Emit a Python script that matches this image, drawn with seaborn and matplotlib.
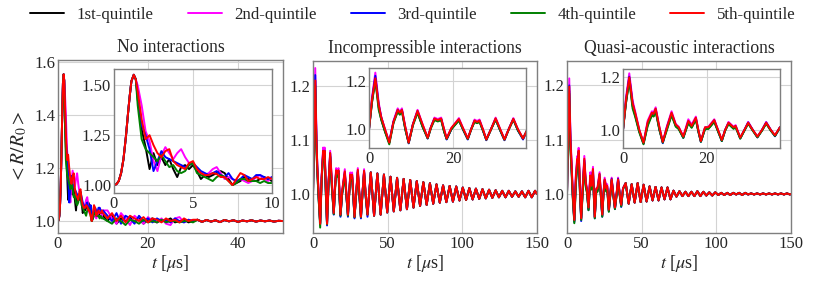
import numpy as np
import pandas as pd
import matplotlib
matplotlib.use("Agg")
import matplotlib.pyplot as plt
import seaborn as sns

# ---------------- data ----------------
labels = ["1st-quintile", "2nd-quintile", "3rd-quintile", "4th-quintile", "5th-quintile"]
colors = ["black", "magenta", "blue", "green", "red"]
titles = ["No interactions", "Incompressible interactions", "Quasi-acoustic interactions"]

# --- No interactions ---
t_ni_rise = [0.0, 0.15, 0.3, 0.45, 0.6, 0.75, 0.9, 1.0, 1.1, 1.25, 1.38]
r_ni_rise = [1.0, 1.004, 1.02, 1.06, 1.13, 1.24, 1.37, 1.45, 1.52, 1.553, 1.53]
t_ni_mid = [1.5, 1.75, 2.0, 2.25, 2.5, 2.75, 3.0, 3.25, 3.5, 3.75, 4.0, 4.25, 4.5, 4.75,
            5.0, 5.25, 5.5, 5.75, 6.0, 6.25, 6.5, 6.75, 7.0, 7.25, 7.5, 7.75, 8.0, 8.25,
            8.5, 8.75, 9.0, 9.25, 9.5, 9.75, 10.0]
r_ni_mid_q1 = [1.43, 1.28, 1.19, 1.08, 1.16, 1.10, 1.14, 1.10, 1.13, 1.08, 1.04, 1.09, 1.10, 1.08,
               1.10, 1.07, 1.03, 1.05, 1.04, 1.05, 1.06, 1.07, 1.06, 1.03, 1.00, 1.01, 1.02, 1.04,
               1.03, 1.02, 1.02, 1.03, 1.04, 1.03, 1.02]
r_ni_mid_q2 = [1.50, 1.40, 1.27, 1.22, 1.12, 1.07, 1.15, 1.19, 1.16, 1.13, 1.16, 1.18, 1.14, 1.11,
               1.11, 1.08, 1.06, 1.05, 1.06, 1.08, 1.09, 1.06, 1.03, 1.04, 1.03, 1.02, 1.03, 1.02,
               1.01, 1.02, 1.04, 1.05, 1.03, 1.02, 1.04]
r_ni_mid_q3 = [1.45, 1.30, 1.25, 1.18, 1.07, 1.12, 1.17, 1.14, 1.13, 1.12, 1.11, 1.10, 1.09, 1.10,
               1.11, 1.09, 1.07, 1.06, 1.05, 1.06, 1.07, 1.05, 1.04, 1.06, 1.03, 1.02, 1.03, 1.05,
               1.04, 1.03, 1.05, 1.05, 1.04, 1.03, 1.04]
r_ni_mid_q4 = [1.40, 1.23, 1.18, 1.16, 1.14, 1.12, 1.15, 1.12, 1.09, 1.10, 1.07, 1.06, 1.07, 1.10,
               1.11, 1.06, 1.05, 1.04, 1.03, 1.02, 1.04, 1.05, 1.04, 1.02, 1.00, 1.01, 1.03, 1.03,
               1.02, 1.02, 1.02, 1.01, 1.02, 1.01, 1.01]
r_ni_mid_q5 = [1.47, 1.33, 1.23, 1.25, 1.20, 1.16, 1.14, 1.17, 1.18, 1.12, 1.10, 1.09, 1.08, 1.11,
               1.12, 1.08, 1.06, 1.05, 1.05, 1.06, 1.055, 1.04, 1.04, 1.02, 1.00, 1.03, 1.06, 1.05,
               1.02, 1.03, 1.04, 1.03, 1.03, 1.04, 1.03]
t_ni_late = [11, 12, 13, 14, 15, 16, 17, 18, 19, 20, 21, 22, 23, 24, 25, 26, 27, 28, 29, 30]
r_ni_late_q1 = [1.0, 1.02, 0.99, 1.01, 1.0, 1.015, 0.995, 1.01, 0.99, 1.005, 1.01, 0.995, 1.005, 1.0, 1.01, 0.995, 1.0, 1.005, 0.995, 1.0]
r_ni_late_q2 = [1.04, 1.01, 0.99, 1.03, 1.01, 0.985, 1.02, 1.005, 0.99, 1.015, 1.0, 0.995, 1.01, 0.99, 0.985, 1.01, 1.015, 0.995, 1.005, 1.0]
r_ni_late_q3 = [1.02, 1.0, 1.03, 0.99, 1.02, 1.01, 0.99, 1.02, 1.0, 1.01, 0.995, 1.01, 1.0, 1.005, 0.995, 1.01, 1.0, 0.995, 1.005, 1.0]
r_ni_late_q4 = [1.0, 0.99, 1.01, 1.0, 0.985, 1.005, 1.0, 0.99, 1.005, 0.995, 1.0, 0.995, 1.005, 0.995, 1.0, 1.0, 0.995, 1.0, 1.0, 0.995]
r_ni_late_q5 = [1.01, 1.03, 1.0, 1.02, 0.995, 1.02, 1.01, 1.0, 1.015, 0.995, 1.01, 1.005, 0.995, 1.01, 1.0, 1.005, 0.995, 1.01, 1.0, 1.005]
t_ni_tail = [31, 32, 33, 34, 35, 36, 37, 38, 39, 40, 41, 42, 43, 44, 45, 46, 47, 48, 49, 50]
r_ni_tail = [1.005, 0.997, 1.004, 0.998, 1.003, 0.996, 1.004, 0.999, 1.003, 0.997,
             1.002, 0.999, 1.003, 0.998, 1.002, 0.999, 1.002, 0.998, 1.001, 1.0]

# --- Incompressible interactions ---
t_inc_head = [0, 0.7, 1.5, 2.3, 2.9, 3.8, 4.8, 5.8, 6.8, 7.3, 7.8, 8.6, 9.4, 10.4, 11.5, 12.7,
              13.9, 14.7, 15.5, 16.3, 17.1, 17.8, 18.4, 19.5, 20.2, 21.3, 22.4, 23.4, 24.2, 25.0,
              25.6, 26.2, 27.0, 27.8, 28.9, 30.0, 31.1, 32.1, 33.1, 34.2, 35.3, 36.5]
r_inc_head_q1 = [1.0, 1.11, 1.21, 1.09, 1.04, 0.99, 0.946, 1.03, 1.075, 1.062, 1.076, 1.0, 0.944, 1.02, 1.07, 1.01,
                 0.963, 1.01, 1.04, 1.034, 1.04, 0.99, 0.96, 1.0, 1.015, 1.037, 0.995, 0.96, 1.0, 1.032,
                 1.026, 1.032, 0.995, 0.957, 1.0, 1.04, 0.995, 0.957, 1.0, 1.04, 0.995, 0.962]
r_inc_head_q2 = [1.0, 1.13, 1.233, 1.11, 1.05, 1.0, 0.948, 1.035, 1.086, 1.072, 1.086, 1.01, 0.948, 1.02, 1.08, 1.02,
                 0.966, 1.01, 1.048, 1.042, 1.048, 1.0, 0.963, 1.005, 1.02, 1.046, 1.0, 0.963, 1.0, 1.04,
                 1.034, 1.04, 1.0, 0.96, 1.0, 1.048, 1.0, 0.96, 1.0, 1.046, 1.0, 0.963]
r_inc_head_q3 = [1.0, 1.12, 1.22, 1.10, 1.05, 0.995, 0.944, 1.03, 1.08, 1.066, 1.08, 1.005, 0.942, 1.02, 1.075, 1.015,
                 0.962, 1.01, 1.043, 1.036, 1.043, 0.995, 0.958, 1.0, 1.018, 1.04, 0.995, 0.958, 1.0, 1.035,
                 1.028, 1.035, 0.995, 0.955, 1.0, 1.043, 0.995, 0.955, 1.0, 1.042, 0.995, 0.958]
r_inc_head_q4 = [1.0, 1.11, 1.20, 1.08, 1.04, 0.99, 0.938, 1.025, 1.072, 1.06, 1.074, 1.0, 0.944, 1.015, 1.068, 1.01,
                 0.963, 1.005, 1.038, 1.032, 1.038, 0.99, 0.96, 1.0, 1.014, 1.036, 0.995, 0.96, 0.998, 1.03,
                 1.025, 1.03, 0.995, 0.957, 0.998, 1.04, 0.995, 0.957, 0.998, 1.04, 0.995, 0.962]
r_inc_head_q5 = [1.0, 1.12, 1.21, 1.10, 1.05, 1.0, 0.945, 1.03, 1.08, 1.068, 1.08, 1.01, 0.945, 1.02, 1.076, 1.02,
                 0.965, 1.01, 1.044, 1.038, 1.044, 1.0, 0.962, 1.005, 1.02, 1.042, 1.0, 0.962, 1.0, 1.036,
                 1.03, 1.036, 1.0, 0.958, 1.0, 1.045, 1.0, 0.958, 1.0, 1.043, 1.0, 0.962]
t_inc_tail = [38.7, 40.9, 43.1, 45.3, 47.5, 49.7, 51.9, 54.1, 56.3, 58.5, 60.7, 62.9, 65.1, 67.3,
              69.5, 71.7, 73.9, 76.1, 78.3, 80.5, 82.7, 84.9, 87.1, 89.3, 91.5, 93.7, 95.9, 98.1,
              100.3, 102.5, 104.7, 106.9, 109.1, 111.3, 113.5, 115.7, 117.9, 120.1, 122.3, 124.5,
              126.7, 128.9, 131.1, 133.3, 135.5, 137.7, 139.9, 142.1, 144.3, 146.5, 148.7, 150.0]
r_inc_tail = [1.04, 0.96, 1.038, 0.962, 1.036, 0.966, 1.032, 0.968, 1.03, 0.97, 1.028, 0.972, 1.026, 0.975,
              1.024, 0.978, 1.022, 0.98, 1.02, 0.982, 1.018, 0.984, 1.016, 0.985, 1.015, 0.986, 1.014, 0.988,
              1.012, 0.989, 1.011, 0.99, 1.01, 0.991, 1.009, 0.992, 1.008, 0.993, 1.007, 0.994,
              1.006, 0.994, 1.006, 0.995, 1.005, 0.995, 1.005, 0.994, 1.006, 0.994, 1.006, 1.0]

# --- Quasi-acoustic interactions ---
t_qa_head = [0, 0.7, 1.5, 2.3, 2.9, 3.9, 4.9, 5.9, 6.9, 7.3, 7.8, 8.7, 9.5, 10.5, 11.6, 12.6,
             13.3, 14.4, 15.6, 16.4, 17.4, 18.0, 18.6, 19.6, 20.4, 21.8, 22.7, 23.6, 24.4, 25.2,
             26.4, 26.9, 28.0, 29.0, 29.9, 31.0, 32.1, 33.2, 34.2, 35.3, 36.3, 37.5]
r_qa_head_q1 = [1.0, 1.10, 1.19, 1.09, 1.055, 0.995, 0.95, 1.02, 1.058, 1.052, 1.072, 1.0, 0.955, 1.005, 1.058, 1.015,
                1.005, 0.972, 1.028, 1.01, 1.04, 0.995, 0.957, 1.005, 1.005, 1.032, 0.995, 0.96, 0.998, 1.024,
                1.006, 1.012, 0.969, 0.998, 1.025, 0.998, 0.973, 0.998, 1.025, 0.998, 0.978, 1.01]
r_qa_head_q2 = [1.0, 1.12, 1.213, 1.11, 1.07, 1.0, 0.952, 1.035, 1.07, 1.066, 1.085, 1.01, 0.956, 1.015, 1.07, 1.022,
                1.012, 0.976, 1.04, 1.02, 1.05, 1.0, 0.958, 1.01, 1.012, 1.04, 1.0, 0.962, 1.0, 1.03,
                1.012, 1.018, 0.971, 1.0, 1.03, 1.0, 0.975, 1.0, 1.03, 1.0, 0.98, 1.01]
r_qa_head_q3 = [1.0, 1.11, 1.20, 1.10, 1.06, 0.995, 0.948, 1.025, 1.062, 1.058, 1.078, 1.005, 0.95, 1.01, 1.062, 1.018,
                1.008, 0.97, 1.032, 1.014, 1.044, 0.995, 0.955, 1.008, 1.008, 1.036, 0.997, 0.958, 1.0, 1.026,
                1.008, 1.014, 0.968, 1.0, 1.028, 1.0, 0.972, 1.0, 1.028, 1.0, 0.976, 1.01]
r_qa_head_q4 = [1.0, 1.10, 1.185, 1.08, 1.05, 0.99, 0.946, 1.015, 1.055, 1.05, 1.07, 1.0, 0.952, 1.0, 1.055, 1.012,
                1.003, 0.97, 1.025, 1.008, 1.038, 0.993, 0.955, 1.003, 1.004, 1.03, 0.994, 0.958, 0.997, 1.022,
                1.004, 1.01, 0.967, 0.997, 1.024, 0.997, 0.972, 0.997, 1.024, 0.997, 0.977, 1.008]
r_qa_head_q5 = [1.0, 1.11, 1.198, 1.10, 1.065, 1.0, 0.952, 1.03, 1.065, 1.06, 1.08, 1.01, 0.955, 1.01, 1.065, 1.02,
                1.01, 0.975, 1.034, 1.015, 1.046, 1.0, 0.958, 1.01, 1.01, 1.037, 1.0, 0.962, 1.0, 1.027,
                1.01, 1.015, 0.971, 1.0, 1.027, 1.0, 0.975, 1.0, 1.027, 1.0, 0.98, 1.01]
t_qa_tail = [39.3, 41.3, 43.3, 45.3, 47.3, 49.3, 51.3, 53.3, 55.3, 57.3, 59.3, 61.3, 63.3, 65.3,
             67.3, 69.3, 71.3, 73.3, 75.3, 77.3, 79.3, 81.3, 83.3, 85.3, 87.3, 89.3, 91.3, 93.3,
             95.3, 97.3, 99.3, 101.3, 103.3, 105.3, 107.3, 109.3, 111.3, 113.3, 115.3, 117.3,
             119.3, 121.3, 123.3, 125.3, 127.3, 129.3, 131.3, 133.3, 135.3, 137.3, 139.3, 141.3,
             143.3, 145.3, 147.3, 149.3, 150.0]
r_qa_tail = [1.02, 0.982, 1.018, 0.984, 1.02, 0.985, 1.017, 0.986, 1.014, 0.988, 1.013, 0.988, 1.012, 0.99,
             1.012, 0.99, 1.006, 0.995, 1.005, 0.996, 1.004, 0.996, 1.004, 0.996, 1.005, 0.996, 1.004, 0.997,
             1.003, 0.997, 1.003, 0.998, 1.002, 0.998, 1.002, 0.998, 1.002, 0.999, 1.002, 0.998,
             1.002, 0.999, 1.001, 0.999, 1.001, 0.999, 1.001, 0.999, 1.001, 0.999, 1.001, 0.999,
             1.001, 0.999, 1.001, 0.999, 1.0]

# ---------------- build series ----------------
ni_mids = [r_ni_mid_q1, r_ni_mid_q2, r_ni_mid_q3, r_ni_mid_q4, r_ni_mid_q5]
ni_lates = [r_ni_late_q1, r_ni_late_q2, r_ni_late_q3, r_ni_late_q4, r_ni_late_q5]
inc_heads = [r_inc_head_q1, r_inc_head_q2, r_inc_head_q3, r_inc_head_q4, r_inc_head_q5]
qa_heads = [r_qa_head_q1, r_qa_head_q2, r_qa_head_q3, r_qa_head_q4, r_qa_head_q5]
ni = {i: (t_ni_rise + t_ni_mid + t_ni_late + t_ni_tail,
          r_ni_rise + ni_mids[i] + ni_lates[i] + r_ni_tail) for i in range(5)}
inc = {i: (t_inc_head + t_inc_tail, inc_heads[i] + r_inc_tail) for i in range(5)}
qa = {i: (t_qa_head + t_qa_tail, qa_heads[i] + r_qa_tail) for i in range(5)}

# ---------------- style ----------------
sns.set_style("whitegrid", {"axes.edgecolor": "#7f7f7f", "grid.color": "#d3d3d3",
                            "axes.linewidth": 1.0})
plt.rcParams["font.family"] = ["Liberation Serif", "DejaVu Serif"]
plt.rcParams["mathtext.fontset"] = "stix"
plt.rcParams["font.size"] = 11

fig = plt.figure(figsize=(8.31, 2.88), dpi=100)
W, H = 831, 288


def ax_px(x0, y0, x1, y1):
    return fig.add_axes([x0 / W, 1 - y1 / H, (x1 - x0) / W, (y1 - y0) / H])


main_boxes = [(58, 60, 283, 233), (313, 61, 537, 233), (567, 61, 791, 233)]
inset_boxes = [(114, 69, 272, 193), (369, 68, 526, 148), (623, 69, 780, 148)]
datasets = [ni, inc, qa]
xlims = [(0, 50), (0, 150), (0, 150)]
ylims = [(0.955, 1.607), (0.928, 1.246), (0.928, 1.245)]
xticks = [[0, 20, 40], [0, 50, 100, 150], [0, 50, 100, 150]]
yticks = [[1.0, 1.2, 1.4, 1.6], [1.0, 1.1, 1.2], [1.0, 1.1, 1.2]]
in_xlims = [(0, 10), (0, 37.2), (0, 37.5)]
in_ylims = [(0.96, 1.582), (0.923, 1.252), (0.932, 1.229)]
in_xticks = [[0, 5, 10], [0, 20], [0, 20]]
in_yticks = [[1.0, 1.25, 1.5], [1.0, 1.2], [1.0, 1.2]]
in_yfmt = ["{:.2f}", "{:.1f}", "{:.1f}"]

handles = []
for k in range(3):
    ax = ax_px(*main_boxes[k])
    ins = ax_px(*inset_boxes[k])
    for a in (ax, ins):
        for i in range(5):
            t, r = datasets[k][i]
            df = pd.DataFrame({"t": t, "r": r})
            sns.lineplot(data=df, x="t", y="r", ax=a, color=colors[i], lw=1.4,
                         sort=False, estimator=None, legend=False)
    ax.set_xlim(*xlims[k]); ax.set_ylim(*ylims[k])
    ax.set_xticks(xticks[k]); ax.set_yticks(yticks[k])
    ax.set_yticklabels([f"{v:.1f}" for v in yticks[k]])
    ax.set_xlabel(r"$t$ [$\mu$s]", fontsize=13, labelpad=1)
    ax.set_ylabel(r"$<R/R_0>$" if k == 0 else "", fontsize=14, labelpad=4)
    ax.set_title(titles[k], fontsize=12.7, pad=6)
    ax.tick_params(labelsize=12, pad=2, length=0)
    ins.set_xlim(*in_xlims[k]); ins.set_ylim(*in_ylims[k])
    ins.set_xticks(in_xticks[k]); ins.set_yticks(in_yticks[k])
    ins.set_yticklabels([in_yfmt[k].format(v) for v in in_yticks[k]])
    ins.set_xlabel(""); ins.set_ylabel("")
    ins.tick_params(labelsize=12, pad=2, length=0)
    ins.set_facecolor("white")
    for a in (ax, ins):
        for s in a.spines.values():
            s.set_color("#7f7f7f"); s.set_linewidth(1.0)
    if k == 0:
        handles = ax.get_lines()[:5]

leg = fig.legend(handles, labels, loc="center", bbox_to_anchor=(413 / W, 1 - 15 / H), ncol=5,
                 frameon=False, fontsize=12.2, handlelength=2.0, columnspacing=2.0,
                 handletextpad=0.75, borderaxespad=0, borderpad=0)
fig.savefig("out.png", dpi=100)
